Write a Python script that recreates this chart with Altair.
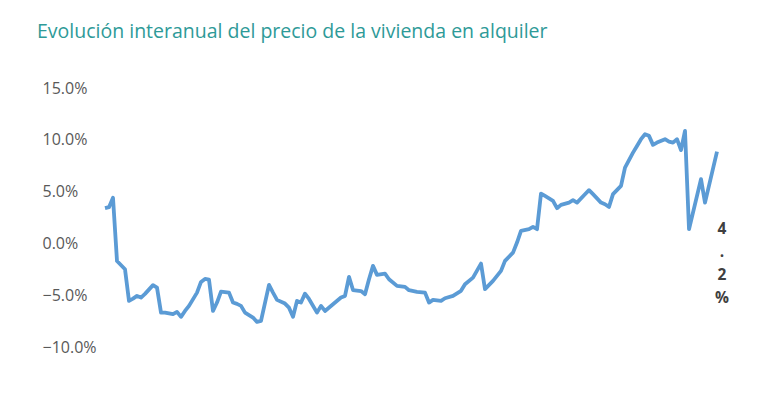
import altair as alt
import pandas as pd

# month index (0 = first observation) and year-on-year change (%)
months = [0, 1, 2, 3, 5, 6, 7, 8, 9, 10, 12, 13, 14, 15, 17, 18, 19, 20, 21, 23,
          24, 25, 26, 27, 28, 29, 31, 32, 33, 34, 35, 37, 38, 39, 41, 42, 43, 45,
          46, 47, 48, 49, 50, 51, 53, 54, 55, 57, 59, 60, 61, 62, 64, 65, 66, 67,
          68, 70, 71, 73, 75, 76, 78, 80, 81, 82, 84, 85, 87, 89, 90, 92, 94, 95,
          97, 99, 100, 102, 103, 104, 106, 107, 108, 109, 110, 112, 113, 114, 116,
          117, 118, 120, 121, 122, 124, 125, 126, 127, 129, 130, 132, 133, 134,
          135, 136, 137, 138, 140, 141, 142, 143, 144, 145, 146, 149, 150, 153]
values = [3.4, 3.5, 4.4, -1.7, -2.5, -5.55, -5.33, -5.07, -5.23, -4.87, -4.03,
          -4.27, -6.68, -6.68, -6.83, -6.61, -7.09, -6.52, -6.03, -4.75, -3.72,
          -3.43, -3.5, -6.52, -5.71, -4.65, -4.75, -5.71, -5.84, -6.03, -6.68,
          -7.16, -7.58, -7.48, -4.01, -4.75, -5.45, -5.81, -6.2, -7.09, -5.55,
          -5.71, -4.85, -5.36, -6.68, -6.03, -6.52, -5.87, -5.23, -5.07, -3.23,
          -4.5, -4.6, -4.9, -3.46, -2.17, -3.04, -2.92, -3.46, -4.1, -4.2, -4.52,
          -4.68, -4.75, -5.71, -5.45, -5.55, -5.29, -5.07, -4.58, -3.94, -3.3,
          -1.95, -4.42, -3.62, -2.65, -1.69, -0.89, 0.08, 1.21, 1.37, 1.59, 1.37,
          4.81, 4.58, 4.1, 3.4, 3.72, 3.94, 4.17, 3.94, 4.75, 5.14, 4.75, 3.94,
          3.78, 3.52, 4.75, 5.55, 7.32, 8.76, 9.41, 10.06, 10.54, 10.38, 9.51,
          9.73, 10.06, 9.83, 9.73, 10.06, 9.0, 10.86, 1.37, 6.2, 3.94, 8.86]

y_ticks = [-10, -5, 0, 5, 10, 15]

annot_x = [154.25]
annot_y = [1.4]
annot_text = ["4.2%"]

df = pd.DataFrame({"mes": months, "variacion": values})
ann = pd.DataFrame({"mes": annot_x, "variacion": annot_y,
                    "etiqueta": ["\n".join(list(t)) for t in annot_text]})

x_scale = alt.Scale(domain=[-1.25, 155], nice=False, zero=False)
y_scale = alt.Scale(domain=[-10, 15], nice=False, zero=False)

line = alt.Chart(df).mark_line(color="#5B9BD5", strokeWidth=3.8,
                               strokeJoin="round").encode(
    x=alt.X("mes:Q", scale=x_scale, axis=None),
    y=alt.Y("variacion:Q", scale=y_scale,
            axis=alt.Axis(values=y_ticks, grid=False, domain=False, ticks=False,
                          title=None, labelAlign="left", labelPadding=58,
                          labelFont="Open Sans", labelFontSize=16,
                          labelColor="#595959", labelBaseline="middle",
                          labelOverlap=False, labelBound=False,
                          labelExpr="format(datum.value, '.1f') + '%'")),
)

text = alt.Chart(ann).mark_text(font="Open Sans", fontSize=15.5, fontWeight="bold",
                                color="#404040", lineBreak="\n", lineHeight=23,
                                align="center", baseline="middle").encode(
    x=alt.X("mes:Q", scale=x_scale),
    y=alt.Y("variacion:Q", scale=y_scale),
    text="etiqueta:N",
)

chart = alt.layer(line, text).properties(
    width=625, height=259,
    autosize=alt.AutoSizeParams(type="none"),
    padding={"left": 92, "top": 80, "right": 35, "bottom": 52},
    title=alt.TitleParams(
        "Evolución interanual del precio de la vivienda en alquiler",
        anchor="start", frame="group", dx=-63, offset=23,
        font="Open Sans", fontSize=19.5, fontWeight="normal",
        color="#2E9A98", baseline="alphabetic"),
).configure_view(stroke=None)

chart.save("out.html", embed_options={"renderer": "svg", "actions": False})
